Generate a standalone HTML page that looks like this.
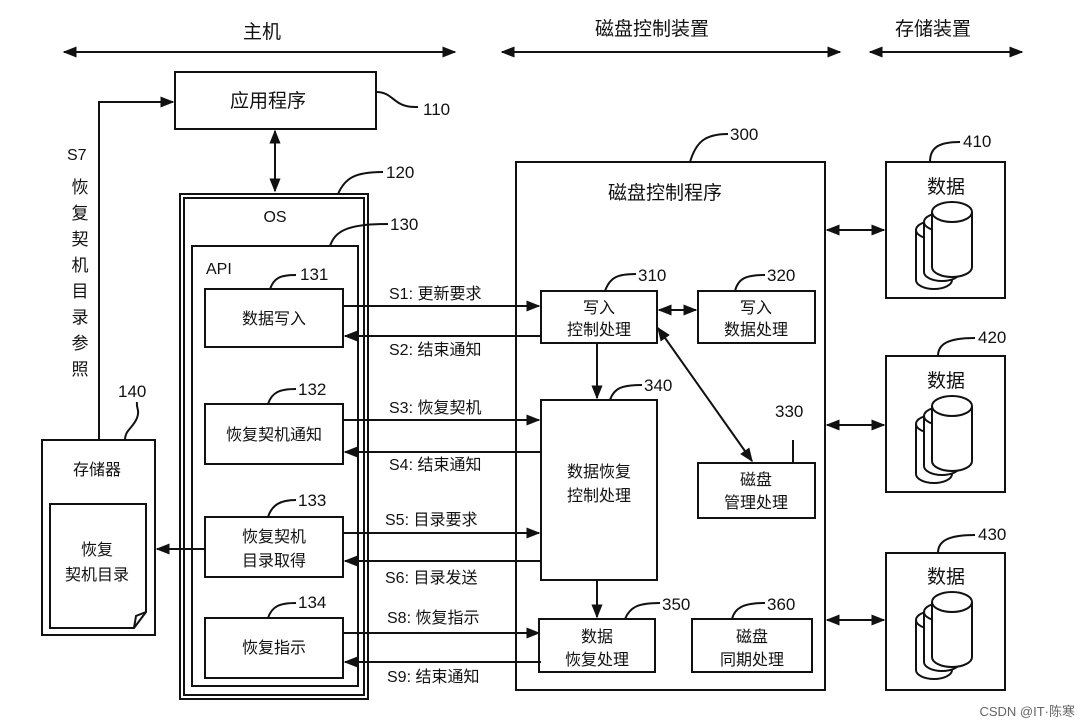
<!DOCTYPE html>
<html><head><meta charset="utf-8"><style>
html,body{margin:0;padding:0;background:#fff;}
svg{display:block;}
text{font-family:"Liberation Sans","Noto Sans CJK SC",sans-serif;fill:#111;}
</style></head><body>
<svg width="1087" height="727" viewBox="0 0 1087 727" xmlns="http://www.w3.org/2000/svg">
<defs>
<marker id="a" viewBox="0 0 10 10" refX="9" refY="5" markerWidth="7" markerHeight="7" orient="auto-start-reverse"><path d="M0,1 L10,5 L0,9 z" fill="#111"/></marker>
<g id="cyl" fill="#fff" stroke="#111" stroke-width="2">
<path d="M-22,8 v50 a18,9 0 0 0 36,0 v-50"/><ellipse cx="-4" cy="8" rx="18" ry="9"/>
<path d="M-14,0 v50 a18,9 0 0 0 36,0 v-50"/><ellipse cx="4" cy="0" rx="18" ry="9"/>
<path d="M-6,-10 v55 a20,10 0 0 0 40,0 v-55"/><ellipse cx="14" cy="-10" rx="20" ry="10"/>
</g>
</defs>
<g fill="none" stroke="#111" stroke-width="2">
<line x1="64" y1="52" x2="455" y2="52" marker-start="url(#a)" marker-end="url(#a)"/>
<line x1="502" y1="52" x2="840" y2="52" marker-start="url(#a)" marker-end="url(#a)"/>
<line x1="870" y1="52" x2="1022" y2="52" marker-start="url(#a)" marker-end="url(#a)"/>
<rect x="175" y="72" width="201" height="57"/>
<path d="M376,92 C395,92 392,108 418,107"/>
<line x1="275" y1="131" x2="275" y2="191" marker-start="url(#a)" marker-end="url(#a)"/>
<polyline points="99,440 99,102 173,102" marker-end="url(#a)"/>
<rect x="180" y="194" width="188" height="505"/>
<rect x="184" y="198" width="180" height="497"/>
<path d="M338,194 C345,178 355,172 383,172"/>
<rect x="192" y="246" width="166" height="440"/>
<path d="M330,246 C335,232 345,224 388,224"/>
<rect x="205" y="289" width="138" height="58"/>
<path d="M270,289 C274,278 280,275 296,275"/>
<rect x="205" y="404" width="138" height="60"/>
<path d="M268,404 C272,392 280,389 296,389"/>
<rect x="205" y="517" width="138" height="60"/>
<path d="M268,517 C272,505 280,500 296,500"/>
<rect x="205" y="618" width="138" height="60"/>
<path d="M268,618 C272,606 280,603 296,603"/>
<rect x="42" y="440" width="113" height="195"/>
<path d="M125,440 C125,430 133,428 137,418 C140,410 136,408 137,402"/>
<path d="M50,504 H146 V612 L134,628 H50 Z"/>
<path d="M134,628 L136,616 L146,612"/>
<line x1="205" y1="549" x2="157" y2="549" marker-end="url(#a)"/>
<line x1="343" y1="306" x2="539" y2="306" marker-end="url(#a)"/>
<line x1="541" y1="336" x2="345" y2="336" marker-end="url(#a)"/>
<line x1="343" y1="420" x2="539" y2="420" marker-end="url(#a)"/>
<line x1="541" y1="452" x2="345" y2="452" marker-end="url(#a)"/>
<line x1="343" y1="533" x2="539" y2="533" marker-end="url(#a)"/>
<line x1="541" y1="561" x2="345" y2="561" marker-end="url(#a)"/>
<line x1="343" y1="633" x2="539" y2="633" marker-end="url(#a)"/>
<line x1="541" y1="662" x2="345" y2="662" marker-end="url(#a)"/>
<rect x="516" y="162" width="309" height="528"/>
<path d="M690,162 C696,142 705,134 728,134"/>
<rect x="541" y="291" width="116" height="52"/>
<path d="M605,291 C610,277 618,274 636,274"/>
<rect x="698" y="291" width="117" height="52"/>
<path d="M735,291 C738,279 745,275 765,275"/>
<line x1="659" y1="310" x2="696" y2="310" marker-start="url(#a)" marker-end="url(#a)"/>
<rect x="541" y="400" width="116" height="180"/>
<path d="M610,400 C614,388 622,385 642,385"/>
<line x1="597" y1="343" x2="597" y2="398" marker-end="url(#a)"/>
<line x1="597" y1="580" x2="597" y2="617" marker-end="url(#a)"/>
<line x1="658" y1="328" x2="752" y2="461" marker-start="url(#a)" marker-end="url(#a)"/>
<rect x="698" y="463" width="117" height="55"/>
<path d="M793,463 V440"/>
<rect x="539" y="619" width="116" height="53"/>
<path d="M625,619 C630,607 638,603 660,603"/>
<rect x="692" y="619" width="120" height="53"/>
<path d="M732,619 C735,607 745,603 765,603"/>
<rect x="886" y="162" width="119" height="136"/>
<path d="M930,162 C930,148 938,142 960,142"/>
<rect x="886" y="356" width="119" height="136"/>
<path d="M938,356 C938,344 948,338 975,338"/>
<rect x="886" y="553" width="119" height="137"/>
<path d="M938,553 C938,541 948,535 975,535"/>
<line x1="827" y1="230" x2="884" y2="230" marker-start="url(#a)" marker-end="url(#a)"/>
<line x1="827" y1="425" x2="884" y2="425" marker-start="url(#a)" marker-end="url(#a)"/>
<line x1="827" y1="620" x2="884" y2="620" marker-start="url(#a)" marker-end="url(#a)"/>
</g>
<use href="#cyl" x="938" y="222"/>
<use href="#cyl" x="938" y="416"/>
<use href="#cyl" x="938" y="612"/>
<g font-size="19" text-anchor="middle">
<text x="262" y="38">主机</text>
<text x="652" y="35">磁盘控制装置</text>
<text x="933" y="35">存储装置</text>
<text x="268" y="107">应用程序</text>
<text x="665" y="199">磁盘控制程序</text>
<text x="946" y="193">数据</text>
<text x="946" y="387">数据</text>
<text x="946" y="583">数据</text>
</g>
<g font-size="16" text-anchor="middle">
<text x="275" y="222">OS</text>
<text x="274" y="324">数据写入</text>
<text x="274" y="440">恢复契机通知</text>
<text x="274" y="542">恢复契机</text>
<text x="274" y="566">目录取得</text>
<text x="274" y="653">恢复指示</text>
<text x="97" y="475">存储器</text>
<text x="97" y="555">恢复</text>
<text x="97" y="580">契机目录</text>
<text x="599" y="313">写入</text>
<text x="599" y="335">控制处理</text>
<text x="756" y="313">写入</text>
<text x="756" y="335">数据处理</text>
<text x="599" y="477">数据恢复</text>
<text x="599" y="501">控制处理</text>
<text x="756" y="485">磁盘</text>
<text x="756" y="508">管理处理</text>
<text x="597" y="642">数据</text>
<text x="597" y="665">恢复处理</text>
<text x="752" y="642">磁盘</text>
<text x="752" y="665">同期处理</text>
</g>
<g font-size="16">
<text x="206" y="274">API</text>
<text x="389" y="299">S1: 更新要求</text>
<text x="389" y="355">S2: 结束通知</text>
<text x="389" y="413">S3:  恢复契机</text>
<text x="389" y="470">S4:  结束通知</text>
<text x="385" y="525">S5: 目录要求</text>
<text x="385" y="583">S6:  目录发送</text>
<text x="387" y="623">S8: 恢复指示</text>
<text x="387" y="682">S9:  结束通知</text>
<text x="67" y="160">S7</text>
</g>
<g font-size="17" text-anchor="middle">
<text x="80" y="193">恢</text><text x="80" y="219">复</text><text x="80" y="245">契</text><text x="80" y="271">机</text><text x="80" y="297">目</text><text x="80" y="323">录</text><text x="80" y="349">参</text><text x="80" y="375">照</text>
</g>
<g font-size="17">
<text x="423" y="115">110</text>
<text x="386" y="178">120</text>
<text x="390" y="230">130</text>
<text x="300" y="280">131</text>
<text x="298" y="395">132</text>
<text x="298" y="506">133</text>
<text x="298" y="608">134</text>
<text x="118" y="397">140</text>
<text x="730" y="140">300</text>
<text x="638" y="281">310</text>
<text x="767" y="281">320</text>
<text x="644" y="391">340</text>
<text x="775" y="417">330</text>
<text x="662" y="610">350</text>
<text x="767" y="610">360</text>
<text x="963" y="147">410</text>
<text x="978" y="343">420</text>
<text x="978" y="540">430</text>
</g>
<text x="1075" y="716" font-size="13" text-anchor="end" style="fill:#666">CSDN @IT·陈寒</text>
</svg>
</body></html>
